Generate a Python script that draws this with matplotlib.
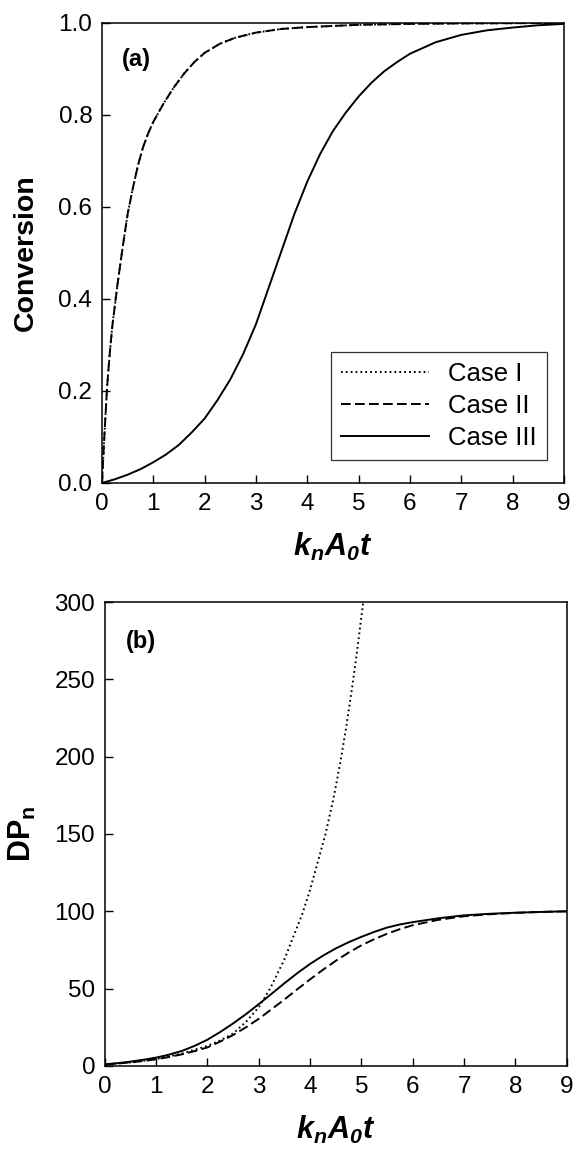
import matplotlib
matplotlib.use("Agg")
import matplotlib.pyplot as plt

plt.rcParams['font.family'] = ['Liberation Sans', 'DejaVu Sans']
plt.rcParams['mathtext.fontset'] = 'custom'
plt.rcParams['mathtext.bfit'] = 'Liberation Sans:bold:italic'
plt.rcParams['mathtext.bf'] = 'Liberation Sans:bold'
plt.rcParams['mathtext.rm'] = 'Liberation Sans'
plt.rcParams['mathtext.it'] = 'Liberation Sans:italic'

# ---------------- data ----------------
# Panel (a): conversion
t_conv_fast = [0, 0.05, 0.1, 0.15, 0.2, 0.3, 0.4, 0.5, 0.6, 0.7, 0.8, 0.9, 1.0, 1.2,
               1.4, 1.6, 1.8, 2.0, 2.3, 2.6, 3.0, 3.5, 4.0, 5.0, 6.0, 7.0, 9.0]
conv_case1 = [0, 0.11, 0.21, 0.28, 0.34, 0.43, 0.51, 0.585, 0.64, 0.69, 0.73, 0.76, 0.785,
              0.825, 0.86, 0.89, 0.915, 0.935, 0.955, 0.968, 0.979, 0.987, 0.991, 0.996,
              0.998, 0.999, 1.0]
conv_case2 = [0, 0.11, 0.21, 0.28, 0.34, 0.43, 0.51, 0.585, 0.64, 0.69, 0.73, 0.76, 0.785,
              0.825, 0.86, 0.89, 0.915, 0.935, 0.955, 0.968, 0.979, 0.987, 0.991, 0.996,
              0.998, 0.999, 1.0]
t_conv_slow = [0, 0.25, 0.5, 0.75, 1.0, 1.25, 1.5, 1.75, 2.0, 2.25, 2.5, 2.75, 3.0, 3.25,
               3.5, 3.75, 4.0, 4.25, 4.5, 4.75, 5.0, 5.25, 5.5, 5.75, 6.0, 6.5, 7.0, 7.5,
               8.0, 8.5, 9.0]
conv_case3 = [0, 0.008, 0.018, 0.03, 0.045, 0.062, 0.083, 0.11, 0.14, 0.18, 0.225, 0.28,
              0.345, 0.425, 0.505, 0.585, 0.655, 0.715, 0.765, 0.805, 0.84, 0.87, 0.895,
              0.915, 0.933, 0.958, 0.974, 0.984, 0.99, 0.995, 0.998]

# Panel (b): DPn
t_dp1 = [0, 0.5, 1.0, 1.5, 2.0, 2.25, 2.5, 2.75, 3.0, 3.22, 3.5, 3.85, 4.0, 4.3, 4.45,
         4.59, 4.7, 4.82, 4.92, 5.02, 5.035]
dp_case1 = [1, 2.3, 4.5, 8, 13, 16.5, 21, 28.5, 38, 50, 69, 98.5, 114, 150, 172,
            196.5, 218.5, 245, 269.5, 296, 300]
t_dp = [0, 0.25, 0.5, 0.75, 1.0, 1.25, 1.5, 1.75, 2.0, 2.25, 2.5, 2.75, 3.0, 3.25, 3.5,
        3.75, 4.0, 4.25, 4.5, 4.75, 5.0, 5.25, 5.5, 5.75, 6.0, 6.5, 7.0, 7.5, 8.0, 8.5, 9.0]
dp_case2 = [1, 1.6, 2.3, 3.2, 4.3, 5.8, 7.5, 9.6, 12, 15.8, 20, 25, 30.5, 36.7, 43,
            49.6, 56, 62.2, 68, 73.3, 78, 82, 85.5, 88.5, 91, 94.5, 96.8, 98.1, 99, 99.6, 100]
dp_case3 = [1, 1.8, 2.8, 4.0, 5.4, 7.3, 9.7, 13, 17, 22, 27.5, 33.5, 40, 46.7, 53.5,
            60, 66, 71.3, 76, 80, 83.5, 86.7, 89.5, 91.5, 93, 95.5, 97.4, 98.4, 99.1, 99.6, 100]

xticks = [0, 1, 2, 3, 4, 5, 6, 7, 8, 9]
yticks_a = [0.0, 0.2, 0.4, 0.6, 0.8, 1.0]
yticks_b = [0, 50, 100, 150, 200, 250, 300]
case_labels = ['Case I', 'Case II', 'Case III']

# ---------------- figure ----------------
fig = plt.figure(figsize=(5.73, 11.54), dpi=100)
ax1 = fig.add_axes([0.178, 0.5815, 0.806, 0.3986])
ax2 = fig.add_axes([0.183, 0.0763, 0.806, 0.402])

lw = 1.4
dot_style = (0, (0.9, 1.6))
dash_style = (0, (5, 2.2))

ax1.plot(t_conv_fast, conv_case1, color='black', lw=lw, linestyle=dot_style, label=case_labels[0])
ax1.plot(t_conv_fast, conv_case2, color='black', lw=lw, linestyle=dash_style, label=case_labels[1])
ax1.plot(t_conv_slow, conv_case3, color='black', lw=lw, linestyle='-', label=case_labels[2])

ax2.plot(t_dp1, dp_case1, color='black', lw=lw, linestyle=dot_style, label=case_labels[0])
ax2.plot(t_dp, dp_case2, color='black', lw=lw, linestyle=dash_style, label=case_labels[1])
ax2.plot(t_dp, dp_case3, color='black', lw=lw, linestyle='-', label=case_labels[2])

ax1.set_xlim(0, 9)
ax1.set_ylim(0, 1.0)
ax2.set_xlim(0, 9)
ax2.set_ylim(0, 300)

ax1.set_xticks(xticks)
ax1.set_yticks(yticks_a)
ax1.set_yticklabels([f"{v:.1f}" for v in yticks_a])
ax2.set_xticks(xticks)
ax2.set_yticks(yticks_b)

for ax in (ax1, ax2):
    ax.tick_params(direction='in', length=6, width=1, labelsize=17.5, pad=7,
                   top=False, right=False)
    for sp in ax.spines.values():
        sp.set_linewidth(1.1)
    ax.set_xlabel(r'$\mathbfit{k_n A_0 t}$', fontsize=22, labelpad=12)

ax1.set_ylabel('Conversion', fontsize=20.5, fontweight='bold', labelpad=14)
ax2.set_ylabel(r'$\mathbf{DP}_\mathbf{n}$', fontsize=22, labelpad=12)

ax1.text(0.075, 0.92, '(a)', transform=ax1.transAxes, fontsize=17,
         fontweight='bold', ha='center', va='center')
ax2.text(0.078, 0.915, '(b)', transform=ax2.transAxes, fontsize=17,
         fontweight='bold', ha='center', va='center')

leg = ax1.legend(loc='lower right', bbox_to_anchor=(0.963, 0.05), fontsize=18.5,
                 frameon=True, fancybox=False, edgecolor='black', handlelength=3.4,
                 labelspacing=0.3, borderpad=0.4, handletextpad=0.75,
                 borderaxespad=0.0)
leg.get_frame().set_linewidth(0.9)

fig.savefig('out.png', dpi=100)
